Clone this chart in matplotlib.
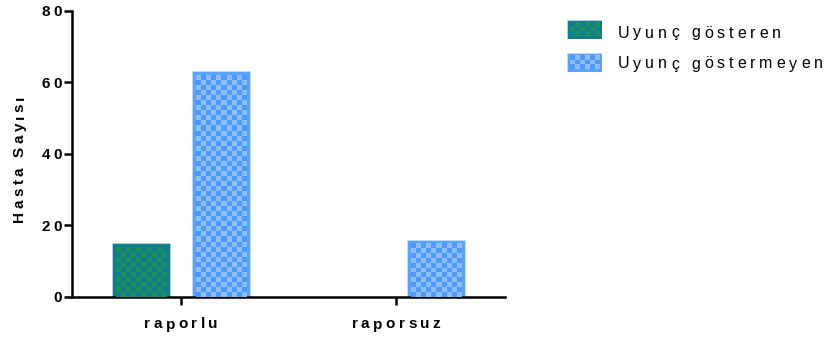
import numpy as np
import matplotlib.pyplot as plt
from matplotlib import transforms
from matplotlib.colors import to_rgb
from matplotlib.font_manager import FontProperties, findfont, get_font

plt.rcParams['font.family'] = ['Liberation Sans', 'DejaVu Sans']

# Veriler
gruplar = ['raporlu', 'raporsuz']
seri_adlari = ['Uyunç gösteren', 'Uyunç göstermeyen']
uyunc_gosteren = [15, 0]
uyunc_gostermeyen = [63, 16]
y_tikler = [0, 20, 40, 60, 80]
y_etiket = 'Hasta Sayısı'

# renkler: (kenar, damalı koyu, damalı açık)
renkler = [('#127d86', '#147d8a', '#1a9160'),
           ('#5aa2fa', '#4d9afa', '#8fbdf8')]

W, H, DPI = 827, 338, 100
fig = plt.figure(figsize=(W / DPI, H / DPI), dpi=DPI)
ax = fig.add_axes([72 / W, 41 / H, 433 / W, 286.5 / H])

x = np.arange(len(gruplar))
genislik = 0.27
kayma = 0.187
px_x = 215.0            # x ekseninde birim başına piksel
px_y = 286.5 / 80       # y ekseninde birim başına piksel
hucre = 5.0             # dama hücresi (piksel)


def dama(a, x0, x1, y0, y1, sx, sy, renk, kenar=4):
    """Kenarlıklı, içi damalı dikdörtgen çizer."""
    a.add_patch(plt.Rectangle((x0, y0), x1 - x0, y1 - y0, facecolor=renk[0],
                              edgecolor='#cfe3f5', linewidth=0.4, zorder=2))
    ix0, ix1 = x0 + kenar / sx, x1 - kenar / sx
    iy0, iy1 = y0 + (kenar / sy if y0 > 0 else 0), y1 - kenar / sy
    nx = max(1, int(round((ix1 - ix0) * sx / hucre)))
    ny = max(1, int(round((iy1 - iy0) * sy / hucre)))
    m = np.indices((ny, nx)).sum(axis=0) % 2
    img = np.where(m[..., None] == 0, to_rgb(renk[1]), to_rgb(renk[2]))
    a.imshow(img, extent=(ix0, ix1, iy0, iy1), interpolation='nearest',
             aspect='auto', zorder=3, origin='lower')


def aralikli(s, x, y, transform, size, weight='normal', ha='left',
             rotation=0, iz=3.5, color='black'):
    """Harfler arası boşluklu yazı (iz: piksel)."""
    fp = FontProperties(family='Liberation Sans', size=size, weight=weight)
    font = get_font(findfont(fp))
    font.set_size(size, DPI)
    adv = [font.load_char(ord(c)).linearHoriAdvance / 65536 for c in s]
    toplam = sum(adv) + iz * (len(s) - 1)
    bas = {'left': 0, 'center': -toplam / 2, 'right': -toplam}[ha]
    ux, uy = (0, 1) if rotation == 90 else (1, 0)
    pos = bas
    for c, a in zip(s, adv):
        if c != ' ':
            tr = transforms.offset_copy(transform, fig=fig, x=pos * ux * 72 / DPI,
                                        y=pos * uy * 72 / DPI, units='points')
            fig.text(x, y, c, transform=tr, fontproperties=fp, ha='left',
                     va='baseline', rotation=rotation, rotation_mode='anchor',
                     color=color)
        pos += a + iz


for i in range(len(gruplar)):
    for k, seri in enumerate([uyunc_gosteren, uyunc_gostermeyen]):
        if seri[i] > 0:
            xc = x[i] + (k * 2 - 1) * kayma
            dama(ax, xc - genislik / 2, xc + genislik / 2, 0, seri[i],
                 px_x, px_y, renkler[k])

ax.set_xlim(-0.507, 1.507)
ax.set_ylim(0, 80)
ax.set_yticks(y_tikler)
ax.set_xticks(x)
ax.set_xticklabels([])
ax.set_yticklabels([])
ax.tick_params(width=1.8, length=6)
ax.spines['top'].set_visible(False)
ax.spines['right'].set_visible(False)
ax.spines['left'].set_linewidth(1.8)
ax.spines['bottom'].set_linewidth(1.8)

# eksen yazıları
fy = 11
yt = transforms.blended_transform_factory(fig.transFigure, ax.transData)
for t in y_tikler:
    aralikli(str(t), 61.5 / W, t - 5.4 / px_y, yt, fy, 'bold', ha='right', iz=3)
xt = transforms.blended_transform_factory(ax.transData, fig.transFigure)
for xi, g in zip(x, gruplar):
    aralikli(g, xi, (H - 328.5) / H, xt, fy, 'bold', ha='center', iz=3.5)
aralikli(y_etiket, 23.5 / W, (H - 159) / H, fig.transFigure, fy, 'bold',
         ha='center', rotation=90, iz=3.3)

# lejant
kutular = [(567, 20, 35, 19), (567, 53, 35, 19)]
tabanlar = [37.5, 68.5]
for k, ((lx, ly, lw, lh), ad) in enumerate(zip(kutular, seri_adlari)):
    la = fig.add_axes([lx / W, (H - ly - lh) / H, lw / W, lh / H])
    la.set_xlim(0, lw)
    la.set_ylim(0, lh)
    la.axis('off')
    dama(la, 0, lw, 0.01, lh, 1, 1, renkler[k], kenar=2.5)
    aralikli(ad, 618 / W, (H - tabanlar[k]) / H, fig.transFigure, 11.5,
             'normal', iz=3.9)

fig.savefig('out.png', dpi=DPI)
